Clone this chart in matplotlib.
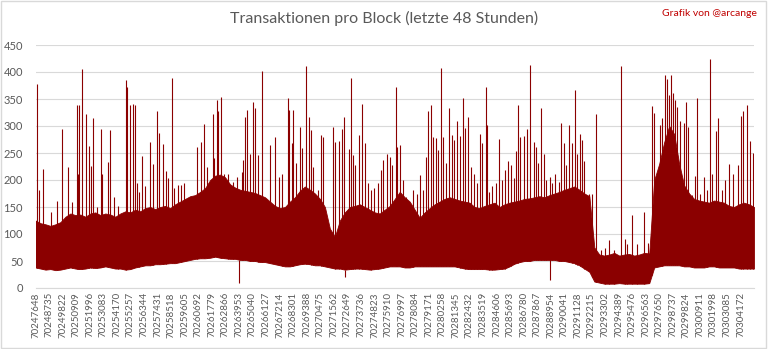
import numpy as np
import matplotlib.pyplot as plt

plt.rcParams["font.family"] = ["Lato", "DejaVu Sans"]

# --- Daten ---
first_block = 70247648
tick_step = 1087
n_ticks = 53
body_step = 400  # Blöcke zwischen zwei Stützstellen der Hüllkurve

# obere Kante des dichten Bereichs, alle 400 Blöcke
body_top = [125, 120, 118, 115, 118, 122, 132, 138, 135, 136,
            132, 138, 140, 135, 138, 136, 132, 138, 142, 140,
            145, 142, 148, 150, 146, 150, 152, 148, 155, 160,
            165, 170, 172, 178, 185, 200, 208, 210, 205, 192,
            186, 182, 180, 178, 176, 172, 168, 160, 152, 148,
            150, 160, 168, 180, 188, 182, 175, 165, 150, 110,
            95, 125, 140, 150, 152, 155, 150, 145, 140, 138,
            145, 152, 165, 178, 168, 160, 145, 130, 140, 148,
            155, 160, 165, 168, 165, 162, 160, 158, 150, 148,
            152, 155, 158, 150, 155, 158, 160, 162, 165, 166,
            168, 170, 168, 172, 175, 178, 182, 185, 188, 182,
            175, 170, 75, 62, 60, 62, 65, 60, 62, 63,
            60, 62, 65, 64, 200, 230, 270, 300, 285, 230,
            190, 175, 165, 162, 160, 158, 162, 160, 158, 152,
            150, 155, 158, 155, 150]

# untere Kante, alle 400 Blöcke
body_low = [38, 36, 34, 35, 33, 34, 36, 38, 36, 35,
            36, 38, 37, 38, 40, 38, 36, 36, 34, 35,
            38, 40, 42, 42, 44, 44, 45, 46, 46, 48,
            50, 52, 54, 55, 55, 56, 58, 56, 55, 54,
            54, 52, 52, 50, 50, 48, 48, 46, 44, 42,
            40, 40, 42, 44, 45, 44, 42, 42, 40, 38,
            36, 36, 34, 35, 36, 36, 35, 34, 35, 36,
            38, 40, 40, 40, 38, 38, 40, 40, 40, 40,
            40, 40, 40, 40, 40, 38, 36, 35, 35, 35,
            35, 34, 34, 35, 36, 40, 45, 48, 50, 50,
            52, 52, 52, 52, 52, 50, 50, 48, 46, 42,
            36, 30, 12, 10, 8, 8, 8, 9, 8, 8,
            8, 8, 8, 9, 38, 40, 42, 42, 42, 42,
            40, 40, 38, 38, 38, 40, 40, 38, 38, 38,
            38, 36, 36, 36, 36]

# einzelne Spitzen (Blöcke nach first_block, Transaktionen)
spike_offsets = [100, 300, 630, 1220, 1700, 2100, 2630, 2900, 3300, 3430,
                 3510, 3730, 4030, 4270, 4480, 4610, 4910, 5250, 5310, 5840,
                 6000, 6320, 6640, 7280, 7360, 7580, 7800, 8000, 8160, 8320,
                 8540, 8810, 9180, 9400, 9720, 9930, 10250, 10440, 10650, 10920,
                 11110, 11450, 11670, 11930, 12950, 13270, 13490, 13780, 14210, 14340,
                 14530, 14660, 14880, 15090, 15410, 15860, 16140, 16540, 16670, 16830,
                 16990, 17200, 17420, 17630, 17870, 18140, 18810, 19210, 19550, 19750,
                 20230, 20330, 20550, 20680, 20920, 21190, 21400, 21690, 21930, 22100,
                 22280, 22630, 22900, 23080, 23840, 24040, 24370, 24580, 24740, 25170,
                 25330, 25440, 25650, 25970, 26210, 26430, 26640, 26880, 27170, 27440,
                 27690, 27890, 28170, 28380, 28570, 28890, 29020, 29230, 29450, 29710,
                 30300, 30570, 30840, 31100, 31320, 31480, 31700, 31900, 32120, 32300,
                 32500, 32660, 32870, 33140, 33380, 33560, 33830, 34050, 34260, 34470,
                 34710, 34930, 35140, 35380, 35620, 35830, 36110, 36210, 36370, 36590,
                 36910, 37150, 37390, 37600, 37870, 38080, 38320, 38540, 38670, 38880,
                 39200, 39440, 39660, 39980, 40120, 40300, 40540, 40760, 40940, 41210,
                 41400, 41660, 41930, 42120, 42360, 42520, 42790, 43000, 43270, 43450,
                 43670, 43850, 44010, 44340, 44610, 44900, 45350, 45670, 46000, 46340,
                 46900, 47280, 47410, 47810, 48200, 48810, 49080, 49420, 49600, 50040,
                 50260, 50440, 50630, 50790, 50950, 51120, 51240, 51420, 51630, 51950,
                 52170, 52330, 52630, 52840, 53030, 53290, 53560, 53830, 54070, 54230,
                 54520, 54740, 55030, 55300, 55620, 55910, 56280, 56530, 56740, 57040,
                 57250, 57490]
spike_values = [377, 181, 220, 141, 162, 295, 224, 160, 339, 212,
                339, 405, 323, 263, 226, 315, 150, 294, 212, 233,
                293, 169, 151, 385, 373, 339, 341, 339, 194, 178,
                245, 188, 271, 230, 328, 287, 266, 217, 203, 388,
                185, 191, 191, 194, 262, 271, 303, 225, 322, 240,
                348, 327, 354, 212, 211, 197, 206, 215, 237, 317,
                330, 249, 345, 333, 246, 401, 265, 280, 206, 212,
                352, 330, 268, 330, 231, 299, 259, 411, 316, 293,
                225, 181, 283, 280, 298, 271, 273, 294, 316, 257,
                388, 246, 228, 283, 341, 268, 194, 181, 185, 194,
                219, 237, 248, 243, 228, 373, 262, 265, 200, 169,
                181, 175, 209, 181, 243, 328, 339, 280, 277, 256,
                407, 280, 231, 334, 283, 274, 310, 282, 351, 296,
                317, 225, 212, 194, 285, 268, 372, 302, 178, 188,
                194, 276, 200, 219, 235, 228, 203, 254, 338, 280,
                282, 294, 413, 271, 262, 231, 334, 248, 200, 205,
                194, 211, 197, 305, 268, 228, 302, 268, 367, 248,
                285, 274, 236, 175, 174, 322, 70, 74, 89, 70,
                411, 90, 81, 135, 81, 140, 83, 337, 325, 302,
                314, 395, 387, 358, 395, 361, 348, 336, 309, 305,
                345, 299, 172, 207, 351, 175, 206, 181, 424, 212,
                290, 314, 181, 200, 230, 212, 228, 319, 327, 339,
                272, 250]

# einzelne Ausreißer nach unten
dip_offsets = [16345, 24820, 41270]
dip_values = [9, 20, 15]

dark_red = "#8B0000"
grey_text = "#595959"

body_x = first_block + body_step * np.arange(len(body_top))
spike_x = first_block + np.array(spike_offsets)
dip_x = first_block + np.array(dip_offsets)
body_low_arr = np.array(body_low)

fig = plt.figure(figsize=(7.68, 3.49), dpi=100)
ax = fig.add_axes([35.5 / 768, 1 - 288 / 349, 718.5 / 768, 243 / 349])

ax.fill_between(body_x, body_low, body_top, color=dark_red, lw=0.6,
                edgecolor=dark_red, zorder=3)
spike_base = np.interp(spike_x, body_x, body_low_arr)
ax.vlines(spike_x, spike_base, spike_values, color=dark_red, lw=0.8, zorder=3)
dip_top = np.interp(dip_x, body_x, body_low_arr)
ax.vlines(dip_x, dip_values, dip_top, color=dark_red, lw=0.8, zorder=3)

ax.set_xlim(first_block, first_block + 57600)
ax.set_ylim(0, 450)
ax.set_yticks(range(0, 451, 50))
ax.grid(axis="y", color="#d9d9d9", lw=0.8, zorder=0)

tick_blocks = [first_block + tick_step * k for k in range(n_ticks)]
ax.set_xticks(tick_blocks)
ax.set_xticklabels([str(b) for b in tick_blocks], rotation=90,
                   fontsize=7, color=grey_text)
ax.tick_params(axis="y", length=0, labelsize=8, labelcolor=grey_text, pad=9)
ax.tick_params(axis="x", length=0, pad=3)

for side in ["top", "right", "left"]:
    ax.spines[side].set_visible(False)
ax.spines["bottom"].set_color("#d9d9d9")

fig.text(0.5, 1 - 18 / 349, "Transaktionen pro Block (letzte 48 Stunden)",
         ha="center", va="center", fontsize=11.5, color=grey_text)
fig.text(757 / 768, 1 - 13 / 349, "Grafik von @arcange", ha="right",
         va="center", fontsize=7.5, color="#C00000")

border = plt.Rectangle((0.001, 0.002), 0.997, 0.995, transform=fig.transFigure,
                       fill=False, edgecolor="#d9d9d9", lw=1)
fig.patches.append(border)

fig.savefig("out.png", dpi=100)
